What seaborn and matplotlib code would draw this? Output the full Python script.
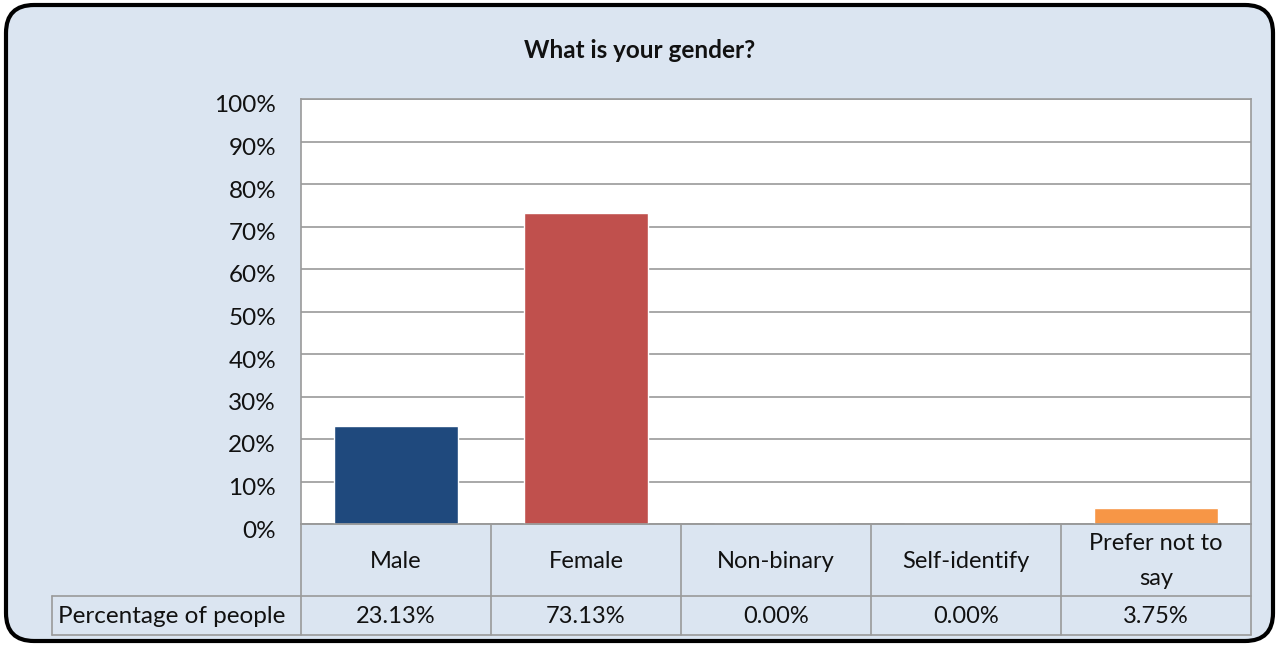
import numpy as np
import pandas as pd
import matplotlib
matplotlib.use("Agg")
import matplotlib.pyplot as plt
import seaborn as sns
from matplotlib.patches import FancyBboxPatch
from matplotlib.ticker import PercentFormatter
import matplotlib.transforms as mtransforms

# Datos del gráfico
categories = ["Male", "Female", "Non-binary", "Self-identify", "Prefer not to say"]
header_labels = ["Male", "Female", "Non-binary", "Self-identify", "Prefer not to\nsay"]
values = [0.2313, 0.7313, 0.0, 0.0, 0.0375]
value_labels = ["23.13%", "73.13%", "0.00%", "0.00%", "3.75%"]
row_label = "Percentage of people"
title = "What is your gender?"
colors = ["#1F497D", "#C0504D", "#9BBB59", "#8064A2", "#F79646"]

W, H = 1279, 646
bg = "#DBE5F1"
grid_col = "#9A9A9A"

sns.set_style("white")
plt.rcParams["font.family"] = ["Lato", "DejaVu Sans"]
plt.rcParams["font.size"] = 17


def fx(px):
    return px / W


def fy(py):
    return 1 - py / H


fig = plt.figure(figsize=(W / 100, H / 100), dpi=100)
fig.patch.set_facecolor("white")

# Marco redondeado
frame = FancyBboxPatch((6, 5), 1267, 636, boxstyle="round,pad=0,rounding_size=28",
                       transform=None, facecolor=bg, edgecolor="black", linewidth=3,
                       zorder=-10)
fig.patches.append(frame)

# Área de trazado
left, right, top, bottom = 301, 1251, 99, 524
ax = fig.add_axes([fx(left), fy(bottom), fx(right) - fx(left), fy(top) - fy(bottom)])
ax.set_facecolor("white")

df = pd.DataFrame({"category": categories, "value": values})
sns.barplot(data=df, x="category", y="value", hue="category", palette=colors,
            width=0.65, legend=False, saturation=1, ax=ax, zorder=3)

ax.set_ylim(0, 1)
ax.set_yticks(np.arange(0, 1.01, 0.1))
ax.yaxis.set_major_formatter(PercentFormatter(1.0, decimals=0))
ax.grid(axis="y", color=grid_col, linewidth=1.2, zorder=0)
ax.set_axisbelow(True)
ax.set_xlabel("")
ax.set_ylabel("")
ax.set_xticks([])
ax.tick_params(axis="y", length=0, pad=18, labelsize=17.5, colors="#111111")
for sp in ax.spines.values():
    sp.set_color(grid_col)
    sp.set_linewidth(1.2)

offset = mtransforms.ScaledTranslation(0, -5 / 100, fig.dpi_scale_trans)
for lab in ax.get_yticklabels():
    lab.set_transform(lab.get_transform() + offset)

# Título
fig.text(0.5, fy(50), title, ha="center", va="center", fontsize=17.5,
         fontweight="bold", color="#111111")

# Tabla de datos
col_w = (right - left) / len(categories)
row1_bot, row2_bot = 596, 635
lbl_left = 52
line_kw = dict(color=grid_col, linewidth=1.2, transform=fig.transFigure, zorder=5)

# Líneas horizontales
fig.add_artist(plt.Line2D([fx(left), fx(right)], [fy(bottom), fy(bottom)], **line_kw))
fig.add_artist(plt.Line2D([fx(lbl_left), fx(right)], [fy(row1_bot), fy(row1_bot)], **line_kw))
fig.add_artist(plt.Line2D([fx(lbl_left), fx(right)], [fy(row2_bot), fy(row2_bot)], **line_kw))
# Líneas verticales
for i in range(len(categories) + 1):
    xp = left + i * col_w
    fig.add_artist(plt.Line2D([fx(xp), fx(xp)], [fy(bottom), fy(row2_bot)], **line_kw))
fig.add_artist(plt.Line2D([fx(lbl_left), fx(lbl_left)], [fy(row1_bot), fy(row2_bot)], **line_kw))

for i, (hl, vl) in enumerate(zip(header_labels, value_labels)):
    xc = left + (i + 0.5) * col_w
    fig.text(fx(xc), fy((bottom + row1_bot) / 2 + 1), hl, ha="center", va="center",
             fontsize=17, color="#111111", linespacing=1.85)
    fig.text(fx(xc), fy((row1_bot + row2_bot) / 2 + 1), vl, ha="center", va="center",
             fontsize=17, color="#111111")

fig.text(fx(lbl_left + 6), fy((row1_bot + row2_bot) / 2 + 1), row_label, ha="left",
         va="center", fontsize=17.5, color="#111111")

plt.savefig("out.png", dpi=100, facecolor=fig.get_facecolor())
